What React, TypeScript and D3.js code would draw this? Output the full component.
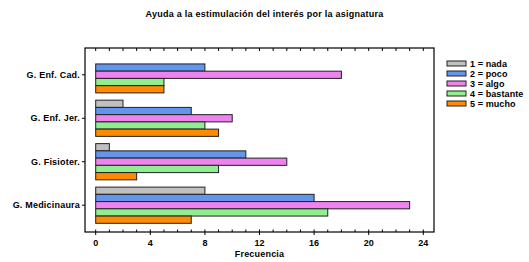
import React from "react";
import { scaleLinear, scaleBand, range } from "d3";

const categories = ["G. Enf. Cad.", "G. Enf. Jer.", "G. Fisioter.", "G. Medicinaura"];
const seriesNames = ["1 = nada", "2 = poco", "3 = algo", "4 = bastante", "5 = mucho"];
const seriesColors = ["#c0c0c0", "#6495ed", "#ee82ee", "#90ee90", "#ff8c00"];
// one row per category, one value per series
const nada = [0, 2, 1, 8];
const poco = [8, 7, 11, 16];
const algo = [18, 10, 14, 23];
const bastante = [5, 8, 9, 17];
const mucho = [5, 9, 3, 7];
const seriesValues = [nada, poco, algo, bastante, mucho];
const xTicks = [0, 4, 8, 12, 16, 20, 24];

const W = 529;
const H = 262;
const frame = { left: 85, right: 434, top: 48, bottom: 232 };
const font = "'Liberation Sans', Arial, sans-serif";

export default function App() {
  const x = scaleLinear().domain([0, 24]).range([95.7, 423.3]);
  const y = scaleBand<string>()
    .domain(categories)
    .range([frame.top, frame.bottom])
    .paddingInner(0.167)
    .paddingOuter(0.2);
  const inner = scaleBand<string>().domain(seriesNames).range([0, y.bandwidth()]);
  const minor = range(0, 25);

  return (
    <svg
      width={W}
      height={H}
      style={{ position: "absolute", left: 0, top: 0, background: "#fff" }}
      fontFamily={font}
      fontWeight="bold"
      fontSize={9}
    >
      <text x={W / 2} y={17} textAnchor="middle" letterSpacing={0.25}>
        Ayuda a la estimulación del interés por la asignatura
      </text>

      {/* bars */}
      {categories.map((c, ci) => (
        <g key={c} transform={`translate(0,${y(c)})`}>
          {seriesNames.map((s, si) => (
            <rect
              key={s}
              x={x(0)}
              y={inner(s)}
              width={x(seriesValues[si][ci]) - x(0)}
              height={inner.bandwidth()}
              fill={seriesColors[si]}
              stroke="#222"
              strokeWidth={1}
            />
          ))}
        </g>
      ))}

      {/* frame */}
      <rect
        x={frame.left}
        y={frame.top}
        width={frame.right - frame.left}
        height={frame.bottom - frame.top}
        fill="none"
        stroke="#000"
        strokeWidth={1.2}
      />

      {/* top and bottom minor ticks */}
      {minor.map((v) => (
        <g key={v}>
          <line x1={x(v)} x2={x(v)} y1={frame.top} y2={frame.top + 3} stroke="#000" />
          <line x1={x(v)} x2={x(v)} y1={frame.bottom} y2={frame.bottom - 2.5} stroke="#000" />
        </g>
      ))}

      {/* x axis labels */}
      {xTicks.map((t) => (
        <g key={t}>
          <line x1={x(t)} x2={x(t)} y1={frame.bottom} y2={frame.bottom + 3} stroke="#000" />
          <text x={x(t)} y={246} textAnchor="middle">
            {t}
          </text>
        </g>
      ))}
      <text x={(x(0) + x(24)) / 2} y={257} textAnchor="middle" letterSpacing={0.2}>
        Frecuencia
      </text>

      {/* category labels */}
      {categories.map((c) => {
        const cy = (y(c) ?? 0) + y.bandwidth() / 2;
        return (
          <g key={c}>
            <line x1={frame.left - 3} x2={frame.left} y1={cy} y2={cy} stroke="#000" />
            <text x={80} y={cy} dy="0.35em" textAnchor="end" letterSpacing={0.2}>
              {c}
            </text>
          </g>
        );
      })}

      {/* legend */}
      {seriesNames.map((s, i) => (
        <g key={s} transform={`translate(447,${61 + i * 10})`}>
          <rect width={19} height={5} fill={seriesColors[i]} stroke="#222" />
          <text x={23} y={3} dy="0.35em" letterSpacing={0.1}>
            {s}
          </text>
        </g>
      ))}
    </svg>
  );
}
